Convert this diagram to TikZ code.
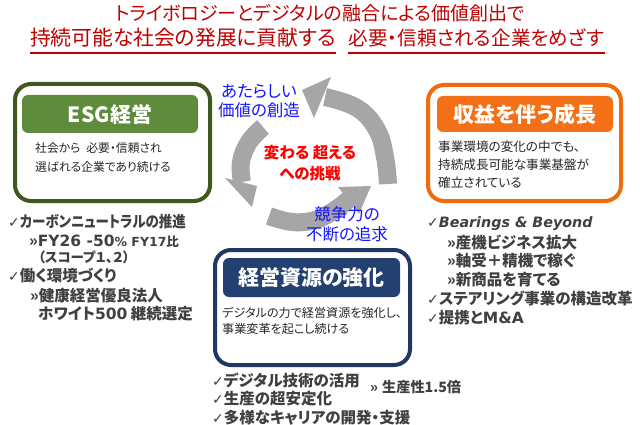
\documentclass[tikz,border=0pt]{standalone}
\usepackage{fontspec}
\setmainfont{Noto Sans CJK JP}[RawFeature=+palt]
\newfontfamily\vd{DejaVu Sans}
\usetikzlibrary{arrows.meta}
\definecolor{titlered}{RGB}{192,0,0}
\definecolor{centerred}{RGB}{255,0,0}
\definecolor{lblue}{RGB}{20,20,255}
\definecolor{esgdark}{RGB}{62,88,32}
\definecolor{esggreen}{RGB}{95,139,60}
\definecolor{orgdark}{RGB}{240,108,10}
\definecolor{orgbar}{RGB}{244,112,22}
\definecolor{navydark}{RGB}{31,56,100}
\definecolor{navybar}{RGB}{36,64,112}
\definecolor{descgray}{RGB}{38,38,38}
\definecolor{bulgray}{RGB}{64,64,64}
\definecolor{arcgray}{RGB}{166,166,166}
\tikzset{
  outerbox/.style={draw, rounded corners=16pt, line width=4pt, fill=white, inner sep=0pt},
  bar/.style={rounded corners=6pt, inner sep=0pt, text=white,
    font=\fontsize{21}{21}\selectfont\bfseries},
  desc/.style={anchor=base west, inner sep=0pt, text=descgray,
    font=\fontsize{11.8}{12}\selectfont},
  bul/.style={anchor=base west, inner sep=0pt, text=bulgray,
    font=\fontsize{15.5}{16}\selectfont\bfseries},
  titletext/.style={anchor=base, inner sep=0pt, text=titlered,
    font=\fontsize{19}{20}\selectfont},
  ctext/.style={anchor=base, inner sep=0pt, text=centerred,
    font=\fontsize{15.5}{16}\selectfont\bfseries},
  bluetext/.style={anchor=base, inner sep=0pt, text=lblue,
    font=\fontsize{16.5}{17}\selectfont},
  cyc/.style={draw=arcgray, line width=18pt},
  cychead/.style={fill=arcgray},
}
\newcommand{\ck}{{\vd\mdseries\fontsize{14}{14}\selectfont ✓}}
\begin{document}
\begin{tikzpicture}[x=1pt,y=-1pt]
\useasboundingbox (0,0) rectangle (640,425);
\fill[white] (0,0) rectangle (640,425);

% title
\node[titletext] (t1) at (320,21) {トライボロジーとデジタルの融合による価値創出で};
\node[titletext, font=\fontsize{20.8}{21}\selectfont] (t2a) at (183,46) {持続可能な社会の発展に貢献する};
\node[titletext, font=\fontsize{19.6}{21}\selectfont] (t2b) at (476.5,46) {必要・信頼される企業をめざす};
\coordinate (ul) at (0,53);
\draw[titlered, line width=1.3pt] (t2a.west |- ul) -- (t2a.east |- ul);
\draw[titlered, line width=1.3pt] (t2b.west |- ul) -- (t2b.east |- ul);

% cycle arrows
\draw[cyc] plot[smooth, tension=0.7] coordinates {(388,184) (385,157) (377,130) (357,108) (325,97)};
\fill[cychead] (331,77) -- (302,90) -- (314,118) -- cycle;
\draw[cyc] plot[smooth, tension=0.7] coordinates {(263,127) (249,142) (241,162) (242,182)};
\fill[cychead] (225,178) -- (252,207) -- (257,186) -- cycle;
\draw[cyc] plot[smooth, tension=0.7] coordinates {(269,216) (292,222) (315,220) (335,210) (349,199)};
\fill[cychead] (338,187) -- (371,186) -- (359,214) -- cycle;

% center texts
\node[ctext] (c1) at (310,158) {変わる 超える};
\node[ctext] (c2) at (310,179) {への挑戦};
\node[bluetext] (b1) at (259,98) {あたらしい};
\node[bluetext] (b2) at (259,117) {価値の創造};
\node[bluetext] (b3) at (347,220) {競争力の};
\node[bluetext] (b4) at (347,240) {不断の追求};

% ESG box
\node[outerbox, draw=esgdark, minimum width=195pt, minimum height=117pt] (esg) at (112.5,142.5) {};
\node[bar, fill=esggreen, minimum width=176pt, minimum height=38pt] (esgbar) at (110,114) {ESG経営};
\node[desc] (esgd1) at (35,152.5) {社会から\hspace{6pt}必要・信頼され};
\node[desc] (esgd2) at (35,171.5) {選ばれる企業であり続ける};

% growth box
\node[outerbox, draw=orgdark, minimum width=193pt, minimum height=116pt] (grw) at (524.5,143) {};
\node[bar, fill=orgbar, minimum width=176pt, minimum height=36pt] (grwbar) at (525,114) {収益を伴う成長};
\node[desc, font=\fontsize{12.6}{13}\selectfont] (grwd1) at (438,151.5) {事業環境の変化の中でも、};
\node[desc, font=\fontsize{12.6}{13}\selectfont] (grwd2) at (438,169.5) {持続成長可能な事業基盤が};
\node[desc, font=\fontsize{12.6}{13}\selectfont] (grwd3) at (438,187.5) {確立されている};

% resources box
\node[outerbox, draw=navydark, minimum width=195pt, minimum height=115pt] (res) at (312.5,307.5) {};
\node[bar, fill=navybar, minimum width=177pt, minimum height=39pt] (resbar) at (311.5,277.5) {経営資源の強化};
\node[desc, font=\fontsize{12.1}{13}\selectfont] (resd1) at (222,317) {デジタルの力で経営資源を強化し、};
\node[desc, font=\fontsize{12.1}{13}\selectfont] (resd2) at (222,333) {事業変革を起こし続ける};

% left list
\node[bul] (l1) at (8,227) {\ck\scalebox{0.87}[1]{カーボンニュートラルの推進}};
\node[bul] (l2) at (29,246) {»{\vd FY26 -50}{\fontsize{12.5}{13}\selectfont{\vd\% FY17}比}};
\node[bul, font=\fontsize{13.5}{14}\selectfont\bfseries] (l3) at (38,262) {（スコープ１、２）};
\node[bul] (l4) at (8,281) {\ck 働く環境づくり};
\node[bul] (l5) at (30,301) {»健康経営優良法人};
\node[bul] (l6) at (38,319) {ホワイト{\vd 500} 継続選定};

% right list
\node[bul] (r1) at (427,227) {\ck{\vd\itshape\fontsize{14.3}{14}\selectfont Bearings \& Beyond}};
\node[bul] (r2) at (447,248) {»産機ビジネス拡大};
\node[bul] (r3) at (447,266) {»軸受＋精機で稼ぐ};
\node[bul] (r4) at (447,285) {»新商品を育てる};
\node[bul] (r5) at (427,304) {\ck ステアリング事業の構造改革};
\node[bul] (r6) at (427,323) {\ck 提携と{\vd M\&A}};

% bottom list
\node[bul] (m1) at (212,386) {\ck デジタル技術の活用};
\node[bul] (m2) at (212,404) {\ck 生産の超安定化};
\node[bul] (m3) at (212,423) {\ck 多様なキャリアの開発・支援};
\node[bul, font=\fontsize{14.2}{15}\selectfont\bfseries] (m4) at (370,392) {»\hspace{4pt}生産性1.5倍};
\end{tikzpicture}
\end{document}
